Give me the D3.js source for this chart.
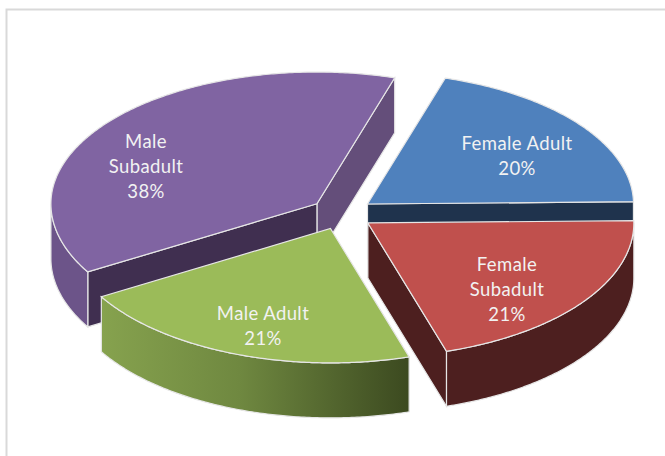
<!DOCTYPE html>
<html>
<head>
<meta charset="utf-8">
<script src="https://cdn.jsdelivr.net/npm/d3@7"></script>
<style>
  html, body { margin: 0; padding: 0; background: #fff; }
  text { font-family: Lato, "Open Sans", sans-serif; font-size: 18.5px; letter-spacing: 0.4px; fill: #f2f2f2; text-anchor: middle; }
</style>
</head>
<body>
<div id="chart"></div>
<script>
(function() {

  // data, clockwise from the blue slice
  var categories = ["Female Adult", "Female Subadult", "Male Adult", "Male Subadult"];
  var values = [20.0, 20.5, 21.3, 38.2];
  var labelLines = [["Female Adult"], ["Female", "Subadult"], ["Male Adult"], ["Male", "Subadult"]];

  // colours per slice
  var topColors = ["#4f81bd", "#c0504d", "#9bbb59", "#8064a2"];
  var rimColors = ["#1f334d", "#4d1f1f", "url(#greenWall)", "#6c5489"];

  var width = 665, height = 456;
  var cx = 342, cy = 213.5, rx = 266, depth = 55, explode = 0.12;
  var tiltBack = 0.495, tiltFront = 0.505; // near half looks a bit deeper
  var start = 17 * Math.PI / 180;
  var labelPos = [[517, 144], [507, 265], [263, 314], [146, 142]];
  var lineHeight = 25;
  var edge = "#e6e6e6";

  var svg = d3.select("#chart").append("svg")
    .attr("width", width)
    .attr("height", height)
    .style("display", "block");

  // frame, cut off by the screenshot on the right and at the bottom
  svg.append("path")
    .attr("d", "M6.5," + height + "V9.5H" + width)
    .attr("fill", "none")
    .attr("stroke", "#d9d9d9")
    .attr("stroke-width", 2);

  var grad = svg.append("defs").append("linearGradient")
    .attr("id", "greenWall")
    .attr("gradientUnits", "userSpaceOnUse")
    .attr("x1", 102).attr("x2", 408).attr("y1", 0).attr("y2", 0);
  grad.append("stop").attr("offset", "0%").attr("stop-color", "#86a24e");
  grad.append("stop").attr("offset", "45%").attr("stop-color", "#6f8840");
  grad.append("stop").attr("offset", "100%").attr("stop-color", "#3c4a20");

  var pie = d3.pie().sort(null).startAngle(start).endAngle(start + 2 * Math.PI);
  var slices = pie(values);
  var line = d3.line();

  // position on the tilted disc, angle clockwise from the top
  function project(a, r) {
    var c = Math.cos(a);
    return [r * Math.sin(a), -r * (c < 0 ? tiltFront : tiltBack) * c];
  }

  function offset(d) {
    var p = project((d.startAngle + d.endAngle) / 2, rx * explode);
    return [cx + p[0], cy + p[1]];
  }

  function samples(from, to) {
    return d3.range(from, to, 0.01).concat([to]);
  }

  function moved(pts, o) {
    return pts.map(function(p) { return [p[0] + o[0], p[1] + o[1]]; });
  }

  function wall(a) {
    var p = project(a, rx);
    return [[0, 0], p, [p[0], p[1] + depth], [0, depth]];
  }

  // outer rim: only the front half of the disc is seen
  function rim(d) {
    var from = Math.max(d.startAngle, Math.PI / 2);
    var to = Math.min(d.endAngle, 3 * Math.PI / 2);
    if (to <= from) return null;
    var upper = samples(from, to).map(function(a) { return project(a, rx); });
    var lower = upper.map(function(p) { return [p[0], p[1] + depth]; }).reverse();
    return upper.concat(lower);
  }

  function drawFace(pts, fill) {
    svg.append("path")
      .attr("d", line(pts) + "Z")
      .attr("fill", fill)
      .attr("stroke", edge)
      .attr("stroke-width", 1.2);
  }

  // purple, blue and red show cut faces, green only its rim
  var blue = slices[0], red = slices[1], green = slices[2], purple = slices[3];
  var po = offset(purple);

  drawFace(moved(wall(purple.endAngle), po), "#644e7a");
  drawFace(moved(wall(purple.startAngle), po), "#402f50");

  // back to front
  [purple, green, blue, red].forEach(function(d) {
    var o = offset(d);
    if (d === blue) drawFace(moved(wall(d.endAngle), o), "#1f334d");
    if (d === red) drawFace(moved(wall(d.endAngle), o), "#4d1f1f");
    var r = rim(d);
    if (r) drawFace(moved(r, o), rimColors[d.index]);
    var top = [[0, 0]].concat(samples(d.startAngle, d.endAngle).map(function(a) { return project(a, rx); }));
    drawFace(moved(top, o), topColors[d.index]);
  });

  // data labels
  slices.forEach(function(d, i) {
    var lines = labelLines[i].concat([Math.round(d.data) + "%"]);
    var t = svg.append("text")
      .attr("x", labelPos[i][0])
      .attr("y", labelPos[i][1] + 6);
    lines.forEach(function(s, k) {
      t.append("tspan")
        .attr("x", labelPos[i][0])
        .attr("dy", k === 0 ? 0 : lineHeight)
        .text(s);
    });
  });

})();
</script>
</body>
</html>
